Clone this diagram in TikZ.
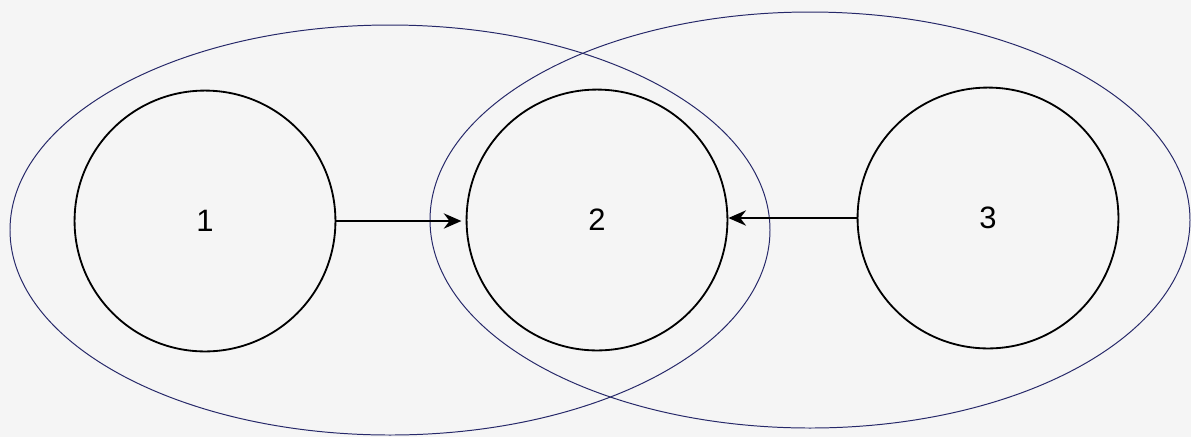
\documentclass[tikz,border=0pt]{standalone}
\usepackage{fontspec}
\setmainfont{Liberation Sans}
\usetikzlibrary{arrows.meta}
\definecolor{paper}{RGB}{245,245,245}
\definecolor{rim}{RGB}{38,40,105}
\begin{document}
\begin{tikzpicture}[x=0.025cm,y=-0.025cm,line width=1.3pt,
  state/.style={circle,draw,minimum size=6.52cm,inner sep=0pt,font=\fontsize{22}{26}\selectfont},
  group/.style={draw=rim,line width=0.7pt},
  link/.style={line width=1.9pt,-{Stealth[length=4.4mm,width=3.8mm]}}]
 \fill[paper] (0,0) rectangle (1191,437);
 \useasboundingbox (0,0) rectangle (1191,437);
 % the two overlapping groups, each holding state 2
 \draw[group] (390,230) ellipse [x radius=380,y radius=205];
 \draw[group] (810,220) ellipse [x radius=380,y radius=208];
 \node[state] (s1) at (205,221) {1};
 \node[state] (s2) at (597,220) {2};
 \node[state] (s3) at (988,218) {3};
 % arrows kept level, so each runs at the height of the circle it leaves
 \draw[link,shorten >=3pt] (s1.east) -- (s1.east -| s2.west);
 \draw[link] (s3.west) -- (s3.west -| s2.east);
\end{tikzpicture}
\end{document}
